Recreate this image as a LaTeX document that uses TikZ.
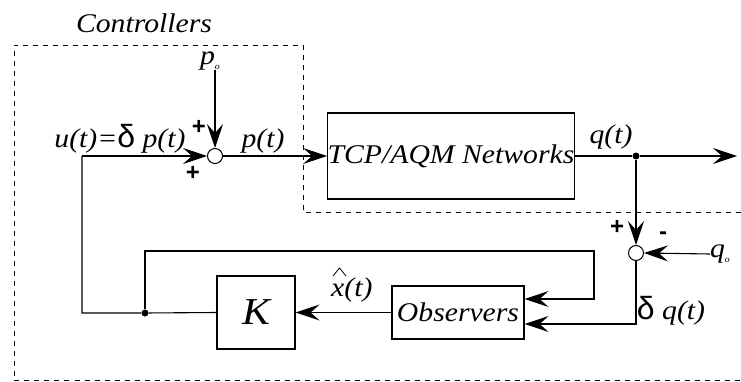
\documentclass[tikz,border=0pt]{standalone}
\usepackage{fontspec}
\setmainfont{Liberation Serif}[FakeStretch=1.1]
\newfontfamily\symfnt{Liberation Sans}
\usetikzlibrary{arrows.meta}
\begin{document}
\begin{tikzpicture}[x=1pt,y=-1pt,
  box/.style={draw, line width=1.1pt, inner sep=0pt},
  sumc/.style={circle, draw, fill=white, minimum size=15pt, inner sep=0pt, line width=1pt},
  dotn/.style={circle, fill=black, minimum size=7pt, inner sep=0pt},
  lbl/.style={font=\fontsize{27}{27}\selectfont\itshape, inner sep=0pt},
  sgn/.style={font=\symfnt\bfseries\fontsize{24}{24}\selectfont, inner sep=0pt},
  dlt/.style={font=\symfnt\fontsize{32}{32}\selectfont},
  conn/.style={line width=1.1pt},
  arr/.style={conn, -{Stealth[length=24pt,width=16pt,inset=9pt]}},
  bound/.style={dash pattern=on 5pt off 5pt, line width=0.8pt}]
\useasboundingbox (0,0) rectangle (741,382);
\fill[white] (0,0) rectangle (741,382);
% controller boundary
\draw[bound] (741,212) -- (303,212) -- (303,45) -- (14,45) -- (14,380.5) -- (741,380.5);
\node[lbl] (ctl) at (144,23) {Controllers};
% blocks
\node[sumc] (sum1) at (215,156) {};
\node[box, minimum width=242pt, minimum height=86pt, font=\fontsize{27}{27}\selectfont\itshape] (tcp) at (451,156) {TCP/AQM Networks};
\node[dotn] (dot1) at (636,156) {};
\coordinate (outend) at (737,156);
\node[sumc] (sum2) at (636,253) {};
\node[box, minimum width=132pt, minimum height=53pt, font=\fontsize{27}{27}\selectfont\itshape] (obs) at (458,312.5) {Observers};
\node[box, minimum width=78pt, minimum height=73pt, font=\fontsize{38}{38}\selectfont\itshape] (K) at (256,312.5) {K};
\node[dotn] (dot2) at (145,313) {};
\coordinate (c1) at (82,156);
\coordinate (c6) at (82,313);
\coordinate (c2) at (636,324);
\coordinate (c3) at (145,251);
\coordinate (c4) at (594,251);
\coordinate (c5) at (594,299);
% labels
\node[lbl] (po) at (210,61) {p\raisebox{-5pt}{\fontsize{9}{9}\selectfont o}};
\node[lbl] (qo) at (720,254) {q\raisebox{-5pt}{\fontsize{9}{9}\selectfont o}};
\node[sgn] (pl1) at (199,127) {+};
\node[sgn] (pl2) at (193,173) {+};
\node[sgn] (pl3) at (617,227) {+};
\node[sgn] (mn) at (663,236) {-};
\node[lbl] (ut) at (120,139) {u(t)={\upshape\symfnt\fontsize{32}{32}\selectfont δ} p(t)};
\node[lbl] (pt) at (263,141) {p(t)};
\node[lbl] (qt) at (611,137) {q(t)};
\node[lbl] (dq) at (671,311) {{\upshape\symfnt\fontsize{32}{32}\selectfont δ} q(t)};
\node[lbl, anchor=base west] (xh) at (331,296) {x(t)};
\draw[line width=0.8pt] ([shift={(2pt,20pt)}]xh.base west) -- ([shift={(8.5pt,28pt)}]xh.base west) -- ([shift={(15pt,20pt)}]xh.base west);
% connectors
\draw[arr] (po.south -| sum1) -- (sum1.north);
\draw[arr] (c1) -- (sum1.west);
\draw[arr] (sum1.east) -- (tcp.west);
\draw[conn] (tcp.east) -- (dot1);
\draw[arr] (dot1) -- (outend);
\draw[arr] (dot1) -- (sum2.north);
\draw[arr] (qo.west) -- (sum2.east);
\draw[arr] (sum2.south) -- (c2) -- (c2 -| obs.east);
\draw[arr] (dot2) -- (c3) -- (c4) -- (c5) -- (c5 -| obs.east);
\draw[arr] (obs.west) -- (K.east);
\draw[conn] (K.west) -- (dot2) -- (c6) -- (c1);
\end{tikzpicture}
\end{document}
